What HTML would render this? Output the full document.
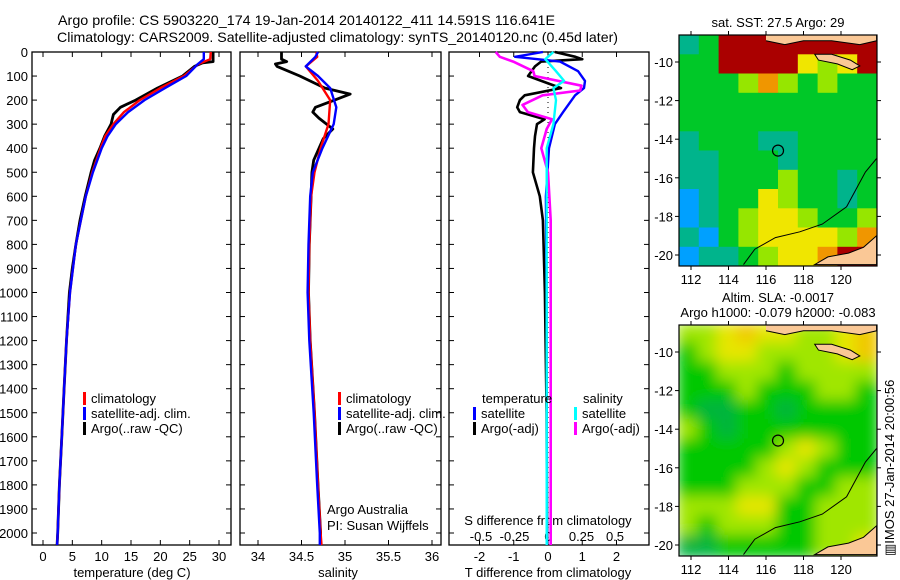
<!DOCTYPE html>
<html><head><meta charset="utf-8"><style>
html,body{margin:0;padding:0;background:#fff;}
svg{display:block;font-family:"Liberation Sans",sans-serif;}
text{fill:#000;}
</style></head><body>
<svg id="fig" width="900" height="580" viewBox="0 0 900 580">
<defs>
<filter id="blur" x="0" y="0" width="1" height="1"><feGaussianBlur stdDeviation="7"/></filter>
<clipPath id="clip1"><rect x="679" y="35" width="198" height="231"/></clipPath>
<clipPath id="clip2"><rect x="679" y="325" width="198" height="231"/></clipPath>
</defs>
<text x="58" y="25" font-size="14" textLength="497" lengthAdjust="spacingAndGlyphs">Argo profile: CS 5903220_174 19-Jan-2014 20140122_411 14.591S 116.641E</text>
<text x="57" y="42" font-size="14" textLength="561" lengthAdjust="spacingAndGlyphs">Climatology: CARS2009. Satellite-adjusted climatology: synTS_20140120.nc (0.45d later)</text>
<g id="panels"></g>
<g id="maps"></g>
<text transform="translate(894,556) rotate(-90)" font-size="13">▥IMOS 27-Jan-2014 20:00:56</text>
</svg>
<script>
const NS='http://www.w3.org/2000/svg';
function mk(tag,attrs,parent,txt){const e=document.createElementNS(NS,tag);for(const k in attrs)e.setAttribute(k,attrs[k]);if(txt!==undefined)e.textContent=txt;parent.appendChild(e);return e;}
const G=document.getElementById('panels');

// ---- data ----
const depthTicks=[0,100,200,300,400,500,600,700,800,900,1000,1100,1200,1300,1400,1500,1600,1700,1800,1900,2000];
const tempTicks=[0,5,10,15,20,25,30];
const salTicks=[34,34.5,35,35.5,36];
const salTickLabels=['34','34.5','35','35.5','36'];
const tdTicks=[-2,-1,0,1,2];
const sdTicks=[-0.5,-0.25,0,0.25,0.5];
const sdTickLabels=['-0.5','-0.25','0','0.25','0.5'];

const tArgoDepth=[0,40,45,60,100,150,200,230,260,280,300,350,400,450,500,600,700,800,900,1000,1200,1400,1600,1800,2000,2050];
const tArgo=[29.0,29.0,27.2,25.8,23.8,19.5,15.8,13.2,12.0,11.8,11.6,10.5,9.7,8.8,8.2,7.2,6.3,5.6,5.0,4.5,4.0,3.6,3.2,2.8,2.5,2.4];
const tClimDepth=[0,30,50,100,150,200,250,300,350,400,500,600,800,1000,1200,1400,1600,1800,2000,2050];
const tClim=[28.6,28.5,26.5,24.0,20.0,16.5,13.8,12.0,10.6,9.8,8.4,7.3,5.6,4.6,4.0,3.6,3.2,2.8,2.5,2.4];
const tSatDepth=[0,30,50,100,150,200,250,300,350,400,500,600,800,1000,1200,1400,1600,1800,2000,2050];
const tSat=[27.4,27.4,26.4,24.4,20.8,17.3,14.5,12.4,11.0,10.0,8.5,7.3,5.6,4.6,4.0,3.6,3.2,2.8,2.5,2.4];

const sArgoDepth=[0,30,40,50,60,100,150,175,200,230,250,275,320,360,450,500,600,800,1000,1200,1500,1800,2000,2050];
const sArgo=[34.27,34.27,34.33,34.20,34.22,34.48,34.77,35.06,34.88,34.66,34.63,34.70,34.86,34.75,34.64,34.62,34.61,34.59,34.58,34.60,34.65,34.69,34.72,34.72];
const sClimDepth=[0,20,60,120,200,300,400,500,600,800,1000,1200,1500,1800,2000,2050];
const sClim=[34.67,34.68,34.55,34.69,34.83,34.81,34.72,34.65,34.61,34.59,34.58,34.60,34.65,34.69,34.72,34.73];
const sSatDepth=[0,20,60,100,150,230,300,400,500,600,800,1000,1200,1500,1800,2000,2050];
const sSat=[34.69,34.66,34.55,34.69,34.83,34.90,34.87,34.74,34.63,34.60,34.58,34.57,34.59,34.64,34.68,34.71,34.71];

const tdArgoDepth=[0,20,30,40,60,100,150,180,200,230,250,280,300,350,400,500,600,700,1000,1500,2000,2050];
const tdArgo=[0.2,0.8,1.0,-0.2,-0.38,-0.58,0.38,-0.68,-0.82,-0.9,-0.82,-0.1,-0.32,-0.38,-0.41,-0.44,-0.24,-0.15,-0.09,-0.04,-0.03,-0.03];
const tdSatDepth=[0,20,40,80,120,150,180,250,300,400,600,1000,2000,2050];
const tdSat=[-0.15,-0.96,0.35,0.88,1.08,1.05,0.79,0.44,0.2,0.03,-0.06,-0.04,-0.03,-0.03];
const sdArgoDepth=[0,20,40,80,100,140,160,180,220,250,280,320,400,500,700,1000,2000,2050];
const sdArgo=[-0.39,-0.36,-0.26,-0.11,-0.1,0.25,0.24,-0.04,-0.19,-0.15,0.03,-0.01,-0.05,0.0,0.02,0.02,0.02,0.02];
const sdSatDepth=[0,30,80,120,150,200,300,400,1000,2000,2050];
const sdSat=[0.04,-0.02,0.06,0.12,0.04,0.06,0.04,-0.01,-0.01,-0.01,-0.01];

// ---- axes ----
const yD=d=>52+d*0.2405;
const xT=v=>43+v*5.867;
const xS=v=>258+(v-34)*87;
const xTD=v=>548+v*34.25;
const xSD=v=>548+v*134;
const panels=[{x0:32,x1:231,name:'temperature-panel'},{x0:240,x1:441,name:'salinity-panel'},{x0:449,x1:649,name:'difference-panel'}];
const TOP=52,BOT=545;

panels.forEach((p,i)=>{
  const g=mk('g',{},G);
  
  
  const r=mk('rect',{x:p.x0,y:TOP,width:p.x1-p.x0,height:BOT-TOP,fill:'none',stroke:'#000','stroke-width':1.3},g);
  
  
  depthTicks.forEach(d=>{
    mk('line',{x1:p.x0,x2:p.x0+5,y1:yD(d),y2:yD(d),stroke:'#000'},g);
    mk('line',{x1:p.x1,x2:p.x1-5,y1:yD(d),y2:yD(d),stroke:'#000'},g);
  });
});
depthTicks.forEach(d=>{
  const t=mk('text',{x:28,y:yD(d)+5,'font-size':13,'text-anchor':'end'},G,String(d));
  
  
});
function xticks(vals,labels,fx,ylab,yTickTop,name){
  vals.forEach((v,i)=>{
    const x=fx(v);
    mk('line',{x1:x,x2:x,y1:BOT,y2:BOT-5,stroke:'#000'},G);
    if(yTickTop) mk('line',{x1:x,x2:x,y1:TOP,y2:TOP+5,stroke:'#000'},G);
    const t=mk('text',{x:x,y:ylab,'font-size':13,'text-anchor':'middle'},G,labels[i]);
    
    
  });
}
xticks(tempTicks,tempTicks.map(String),xT,561,true,'temperature-tick-label');
xticks(salTicks,salTickLabels,xS,561,true,'salinity-tick-label');
xticks(tdTicks,tdTicks.map(String),xTD,561,true,'t-diff-tick-label');
sdTicks.forEach((v,i)=>{
  const t=mk('text',{x:xSD(v),y:541,'font-size':13,'text-anchor':'middle'},G,sdTickLabels[i]);
  
  
});
function label(x,y,s,name,anchor){const t=mk('text',{x:x,y:y,'font-size':13,'text-anchor':anchor||'start'},G,s);return t;}
label(132,577,'temperature (deg C)','temperature-axis-title','middle');
label(338,577,'salinity','salinity-axis-title','middle');
label(548,577,'T difference from climatology','t-diff-axis-title','middle');
label(548,525,'S difference from climatology','s-diff-axis-title','middle');
label(327,514,'Argo Australia','credit-line-1');
label(327,530,'PI: Susan Wijffels','credit-line-2');

mk('line',{x1:548,x2:548,y1:TOP,y2:BOT,stroke:'#000','stroke-dasharray':'1,4'},G);

function series(depths,vals,fx,color,name,w){
  const pts=depths.map((d,i)=>fx(vals[i]).toFixed(1)+','+yD(d).toFixed(1)).join(' ');
  const l=mk('polyline',{points:pts,fill:'none',stroke:color,'stroke-width':w||2.4,'stroke-linejoin':'round'},G);
  
  
}
series(tArgoDepth,tArgo,xT,'#000','temperature-argo-line',2.8);
series(tClimDepth,tClim,xT,'#f00','temperature-climatology-line');
series(tSatDepth,tSat,xT,'#00f','temperature-satellite-line');
series(sArgoDepth,sArgo,xS,'#000','salinity-argo-line',2.8);
series(sClimDepth,sClim,xS,'#f00','salinity-climatology-line');
series(sSatDepth,sSat,xS,'#00f','salinity-satellite-line');
series(tdArgoDepth,tdArgo,xTD,'#000','t-diff-argo-line',2.6);
series(tdSatDepth,tdSat,xTD,'#00f','t-diff-satellite-line');
series(sdArgoDepth,sdArgo,xSD,'#f0f','s-diff-argo-line',2.6);
series(sdSatDepth,sdSat,xSD,'#0ff','s-diff-satellite-line');

function legend(x,y,color,txt,name){
  const g=mk('g',{},G);
  
  
  mk('rect',{x:x,y:y-11,width:3,height:13,fill:color},g);
  mk('text',{x:x+8,y:y,'font-size':13},g,txt);
}
legend(83,403,'#f00','climatology','legend-temp-climatology');
legend(83,418,'#00f','satellite-adj. clim.','legend-temp-satellite');
legend(83,433,'#000','Argo(..raw -QC)','legend-temp-argo');
legend(338,403,'#f00','climatology','legend-sal-climatology');
legend(338,418,'#00f','satellite-adj. clim.','legend-sal-satellite');
legend(338,433,'#000','Argo(..raw -QC)','legend-sal-argo');
label(482,403,'temperature','legend-temperature-heading');
label(583,403,'salinity','legend-salinity-heading');
legend(473,418,'#00f','satellite','legend-tdiff-satellite');
legend(473,433,'#000','Argo(-adj)','legend-tdiff-argo');
legend(574,418,'#0ff','satellite','legend-sdiff-satellite');
legend(574,433,'#f0f','Argo(-adj)','legend-sdiff-argo');

// ---- maps ----
const M=document.getElementById('maps');
const lonTicks=[112,114,116,118,120];
const latTicks=[-10,-12,-14,-16,-18,-20];
const sstPalette=['#00008c','#00a0ff','#00b48c','#00c828','#96e600','#f0e600','#f09600','#aa0000'];
const sstGrid=[
[2,3,7,7,7,7,7,7,7,7],
[3,3,7,7,7,7,5,4,5,7],
[3,3,3,4,6,4,3,4,3,3],
[3,3,3,3,3,3,3,3,3,3],
[3,3,3,3,3,3,3,3,3,3],
[2,3,3,3,2,2,3,3,3,3],
[2,2,3,3,3,2,3,3,3,3],
[2,2,3,3,3,4,3,3,2,3],
[1,2,3,3,5,4,3,3,2,3],
[1,2,3,4,5,5,4,3,3,4],
[2,1,3,4,5,5,5,5,4,6],
[1,2,2,3,4,5,5,6,7,7]];
const slaPalette=['#00b43c','#00c800','#a0e600','#e6e600','#f0c800'];
const slaGrid=[
[2,2,3,4,3,3,2,2,3,4],
[1,2,3,3,2,2,2,2,3,4],
[1,1,2,2,2,1,2,2,2,2],
[1,1,1,2,1,1,1,2,2,1],
[1,0,0,1,1,0,1,1,1,1],
[2,1,0,1,1,1,1,1,1,1],
[1,1,1,1,1,2,3,2,1,1],
[1,1,1,1,2,3,2,1,1,1],
[1,1,1,2,2,2,1,1,2,2],
[2,2,2,3,3,1,1,2,2,2],
[2,1,2,2,2,1,1,2,2,2],
[0,0,1,1,1,1,1,2,2,3]];
const argoLon=116.641, argoLat=-14.591;
const landSumba=[[118.6,-9.6],[119.5,-9.6],[120.5,-9.9],[121.0,-10.2],[120.6,-10.4],[119.8,-10.1],[118.8,-9.9]];
const landTop=[[116.0,-8.9],[117.0,-9.1],[118.0,-8.9],[119.5,-8.9],[121.0,-9.1],[121.9,-8.9]];
const landAus=[[121.9,-19.0],[121.2,-19.6],[120.4,-19.9],[119.3,-20.1],[118.6,-20.5],[121.9,-20.5]];
const shelfLine=[[114.8,-20.5],[115.4,-19.7],[116.5,-19.1],[117.8,-18.8],[119.0,-18.4],[120.3,-17.5],[120.8,-16.6],[121.3,-15.7],[121.9,-15.0]];

function drawMap(top,grid,palette,clip,blur,titleLines,name){
  const g=mk('g',{},M);
  
  
  const px=lon=>691+(lon-112)*18.75;
  const py=lat=>top+27+(-10-lat)*19.3;
  const cg=mk('g',{'clip-path':'url(#'+clip+')'},g);
  const hg=mk('g',blur?{filter:'url(#blur)'}:{},cg);
  const rows=grid.length, cols=grid[0].length;
  const cw=198/cols, ch=231/rows;
  for(let r=0;r<rows;r++)for(let c=0;c<cols;c++){
    const e=mk('rect',{x:(679+c*cw-(blur?2:0)).toFixed(1),y:(top+r*ch-(blur?2:0)).toFixed(1),width:(cw+(blur?4:0.6)).toFixed(1),height:(ch+(blur?4:0.6)).toFixed(1),fill:palette[grid[r][c]]},hg);
    
    
  }
  const poly=pts=>pts.map(p=>px(p[0]).toFixed(1)+','+py(p[1]).toFixed(1)).join(' ');
  mk('polygon',{points:poly(landSumba),fill:'#fac896',stroke:'#000','stroke-width':1},cg);
  mk('polyline',{points:poly(landTop.concat([[121.9,-8.5],[116,-8.5]])),fill:'#fac896',stroke:'#000','stroke-width':1},cg);
  mk('polygon',{points:poly(landAus),fill:'#fac896',stroke:'#000','stroke-width':1},cg);
  mk('polyline',{points:poly(shelfLine),fill:'none',stroke:'#000','stroke-width':1},cg);
  const c=mk('circle',{cx:px(argoLon),cy:py(argoLat),r:5.5,fill:'none',stroke:'#000','stroke-width':1.2},g);
  
  
  mk('rect',{x:679,y:top,width:198,height:231,fill:'none',stroke:'#000','stroke-width':1.2},g);
  lonTicks.forEach(l=>{
    mk('line',{x1:px(l),x2:px(l),y1:top,y2:top-4,stroke:'#000'},g);
    mk('line',{x1:px(l),x2:px(l),y1:top+231,y2:top+235,stroke:'#000'},g);
    const t=mk('text',{x:px(l),y:top+249,'font-size':13,'text-anchor':'middle'},g,String(l));
    
    
  });
  latTicks.forEach(l=>{
    mk('line',{x1:679,x2:675,y1:py(l),y2:py(l),stroke:'#000'},g);
    mk('line',{x1:877,x2:881,y1:py(l),y2:py(l),stroke:'#000'},g);
    const t=mk('text',{x:673,y:py(l)+5,'font-size':13,'text-anchor':'end'},g,String(l));
    
    
  });
  titleLines.forEach((s,i)=>{
    const t=mk('text',{x:778,y:top-8-(titleLines.length-1-i)*15,'font-size':13,'text-anchor':'middle'},g,s);
    
    
  });
}
drawMap(35,sstGrid,sstPalette,'clip1',false,['sat. SST: 27.5 Argo: 29'],'sst-map');
drawMap(325,slaGrid,slaPalette,'clip2',true,['Altim. SLA: -0.0017','Argo h1000: -0.079 h2000: -0.083'],'sla-map');
</script>
</body></html>
